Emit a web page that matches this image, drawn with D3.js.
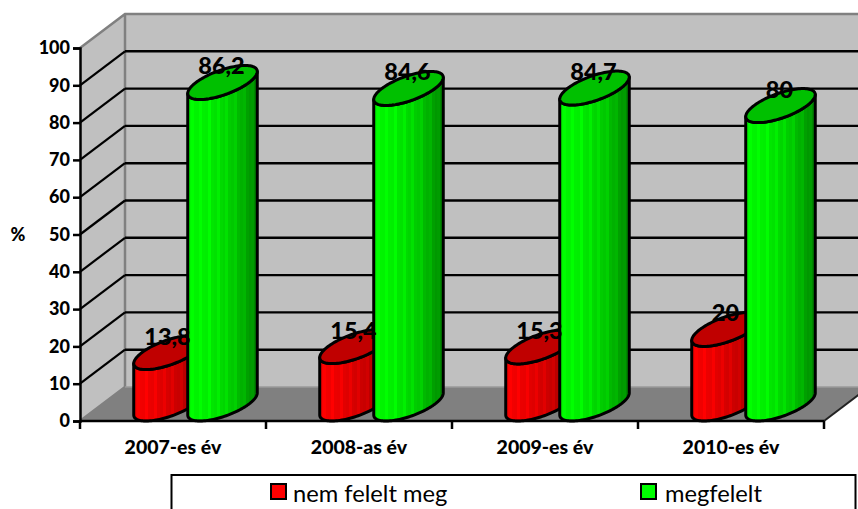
<!DOCTYPE html>
<html><head><meta charset="utf-8">
<script src="https://cdn.jsdelivr.net/npm/d3@7"></script>
<style>html,body{margin:0;padding:0;background:#fff;overflow:hidden}svg{display:block}text{font-family:Lato,Carlito,sans-serif}</style>
</head><body><div id="c"></div>
<script>
const categories = ["2007-es év","2008-as év","2009-es év","2010-es év"];
const seriesNames = ["nem felelt meg","megfelelt"];
const redValues = [13.8,15.4,15.3,20];
const greenValues = [86.2,84.6,84.7,80];
const yTicks = [0,10,20,30,40,50,60,70,80,90,100];
const redLabels = ["13,8","15,4","15,3","20"];
const greenLabels = ["86,2","84,6","84,7","80"];

const W=858,H=509;
const svg=d3.select("#c").append("svg").attr("width",W).attr("height",H);
const x=d3.scaleBand().domain(categories).range([80,824]);
const y=d3.scaleLinear().domain([0,100]).range([421,48]);
const sub=d3.scaleBand().domain([0,1]).range([-54,54]);
const dx=45,dy=-34,a=26.5;
const x0=80,x1=824,y0=y(0),yT=y(100);
const poly=p=>"M"+p.map(d=>d.join(",")).join("L")+"Z";

// gradients with faint vertical facets
const defs=svg.append("defs");
function grad(id,ramp){
  const g=defs.append("linearGradient").attr("id",id).attr("x1",0).attr("x2",1).attr("y1",0).attr("y2",0);
  const col=d3.scaleLinear().domain([0,.28,.65,1]).range(ramp);
  const n=24;
  d3.range(n).forEach(k=>{
    const c=d3.color(col((k+.5)/n));
    const v=(k%3==1)?c.brighter(.22):c;
    g.append("stop").attr("offset",k/n).attr("stop-color",v);
    g.append("stop").attr("offset",(k+1)/n).attr("stop-color",v);
  });
}
grad("gr",["#00f800","#00ee00","#00c800","#008400"]);
grad("rd",["#f80000","#e80000","#c80000","#880000"]);

// walls
const GR="#808080";
svg.append("path").attr("d",poly([[x0+dx,yT+dy],[x1+dx,yT+dy],[x1+dx,y0+dy],[x0+dx,y0+dy]])).attr("fill","#c0c0c0");
svg.append("path").attr("d",poly([[x0,yT],[x0+dx,yT+dy],[x0+dx,y0+dy],[x0,y0]])).attr("fill","#c0c0c0");
svg.append("path").attr("d",poly([[x0,y0],[x1,y0],[x1+dx,y0+dy],[x0+dx,y0+dy]])).attr("fill",GR);
svg.append("path").attr("d",`M${x0},${yT}L${x0+dx},${yT+dy}L${x1+dx},${yT+dy}M${x0+dx},${yT+dy}V${y0+dy}L${x0},${y0}`).attr("fill","none").attr("stroke",GR).attr("stroke-width",2.5);
svg.append("path").attr("d",`M${x0+dx},${y0+dy}H${x1+dx}`).attr("stroke","#9a9a9a").attr("stroke-width",1.5);

// gridlines
yTicks.filter(t=>t>0&&t<100).forEach(t=>{
  svg.append("path").attr("d",`M${x0},${y(t)}L${x0+dx},${y(t)+dy}`).attr("stroke","#000").attr("stroke-width",2.2).attr("fill","none");
  svg.append("path").attr("d",`M${x0+dx},${y(t)+dy}H${x1+dx}`).attr("stroke","#000").attr("stroke-width",2.4).attr("fill","none");
});
svg.append("path").attr("d",`M${x1},${y0}L${x1+dx},${y0+dy}`).attr("stroke","#222").attr("stroke-width",2).attr("fill","none");

// cylinders
const ex=dx/2,ey=dy/2;
function ell(cx,cy,t){return [cx+a*Math.cos(t)+ex*Math.sin(t),cy+ey*Math.sin(t)];}
const tR=Math.atan2(ex,a);
function cylinder(v,cat,i,fill,top){
  const cx=x(cat)+x.bandwidth()/2+sub(i)+sub.bandwidth()/2+ex;
  const base=y(0)+ey, t=y(v)+ey;
  const N=60,lo=[];
  for(let k=0;k<=N;k++) lo.push(tR-Math.PI*k/N);
  const topEdge=lo.map(q=>ell(cx,t,q));
  const botEdge=lo.map(q=>ell(cx,base,q)).reverse();
  const g=svg.append("g");
  g.append("path").attr("d",poly(topEdge.concat(botEdge))).attr("fill",`url(#${fill})`).attr("stroke","#000").attr("stroke-width",3).attr("stroke-linejoin","round");
  const all=d3.range(0,N*2).map(k=>ell(cx,t,Math.PI*k/N));
  g.append("path").attr("d",poly(all)).attr("fill",top).attr("stroke","#000").attr("stroke-width",3);
}
categories.forEach((c,i)=>{
  cylinder(redValues[i],c,0,"rd","#c00000");
  cylinder(greenValues[i],c,1,"gr","#00c000");
});

// value labels
function valueLabels(vals,labs,i){
  svg.append("g").selectAll("text").data(vals).join("text")
    .attr("x",(d,j)=>x(categories[j])+x.bandwidth()/2+sub(i)+sub.bandwidth()/2+ex-1)
    .attr("y",d=>y(d)+ey-8)
    .attr("text-anchor","middle").attr("font-weight",900).attr("font-size",23.5).attr("fill","#000")
    .text((d,j)=>labs[j]);
}
valueLabels(redValues,redLabels,0);
valueLabels(greenValues,greenLabels,1);

// axes
const ay=svg.append("g").attr("transform",`translate(${x0},0)`).call(d3.axisLeft(y).tickValues(yTicks).tickSize(7).tickPadding(3));
const ax=svg.append("g").attr("transform",`translate(0,${y0})`).call(d3.axisBottom(x).tickSize(0).tickPadding(19));
ay.select(".domain").attr("stroke","#000").attr("stroke-width",2.5);
ay.selectAll(".tick line").attr("stroke","#000").attr("stroke-width",2.5);
ay.selectAll("text").attr("font-size",18).attr("font-weight",900).attr("fill","#000").style("font-family","Lato");
ax.select(".domain").attr("stroke","#000").attr("stroke-width",2.5).attr("d",`M${x0},0H${x1}`);
ax.selectAll("text").attr("font-size",19.5).attr("font-weight",900).attr("fill","#000").style("font-family","Lato");
ax.append("g").selectAll("line").data(d3.range(categories.length+1)).join("line")
  .attr("x1",d=>x0+d*x.step()).attr("x2",d=>x0+d*x.step()).attr("y1",0).attr("y2",8).attr("stroke","#000").attr("stroke-width",2.5);

svg.append("text").attr("x",18).attr("y",241).attr("text-anchor","middle").attr("font-size",18).attr("font-weight",900).text("%");

// legend
svg.append("rect").attr("x",171.5).attr("y",475).attr("width",684).attr("height",50).attr("fill","#fff").attr("stroke","#000").attr("stroke-width",2);
const legX=[271,641],legC=["#ff0000","#00ff00"];
seriesNames.forEach((n,i)=>{
  svg.append("rect").attr("x",legX[i]).attr("y",484).attr("width",15).attr("height",15).attr("fill",legC[i]).attr("stroke","#000").attr("stroke-width",2);
  svg.append("text").attr("x",legX[i]+22+(i?2:0)).attr("y",502).attr("font-size",23.7).attr("fill","#000").text(n);
});
</script></body></html>
